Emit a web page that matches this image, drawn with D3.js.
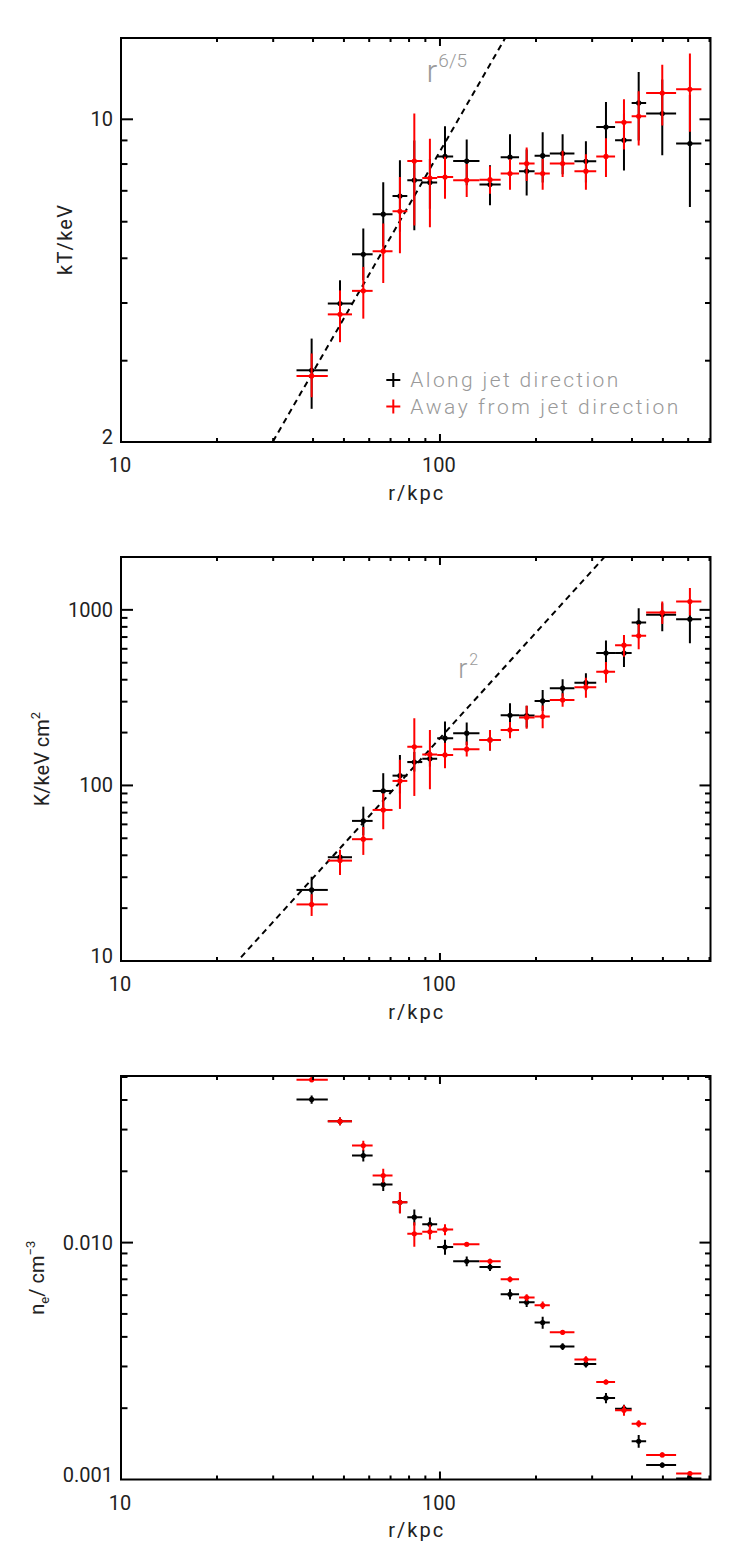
<!DOCTYPE html>
<html><head><meta charset="utf-8">
<script src="https://cdn.jsdelivr.net/npm/d3@7"></script>
<style>
html,body{margin:0;padding:0;background:#fff;}
svg text{font-family:Roboto,"Liberation Sans","DejaVu Sans",sans-serif;}
</style></head><body>
<svg id="c" width="747" height="1557"></svg>
<script>
// ---------------- data ----------------
const rMid = [39.6, 48.6, 57.5, 66.4, 74.9, 83.1, 93.0, 103.7, 121.3, 143.5, 165.8, 187.0, 209.9, 242.4, 286.8, 331.5, 377.5, 419.8, 497.7, 607.6];
const rLo  = [35.5, 44.5, 53, 61.5, 71, 79, 88, 98, 110, 133, 155, 177, 198, 221, 264, 309, 354, 399, 443, 550];
const rHi  = [44.5, 53, 61.5, 71, 79, 88, 98, 110, 133, 155, 177, 198, 221, 264, 309, 354, 399, 443, 550, 660];

// temperature kT (keV)
const ktAlong   = [2.86, 3.99, 5.10, 6.23, 6.82, 7.38, 7.30, 8.31, 8.12, 7.22, 8.28, 7.72, 8.34, 8.43, 8.11, 9.62, 9.01, 10.85, 10.29, 8.86];
const ktAlongLo = [2.36, 3.56, 4.48, 5.30, 5.71, 5.75, 6.40, 6.96, 7.20, 6.51, 7.30, 6.84, 7.30, 7.60, 7.30, 8.35, 7.75, 9.00, 8.36, 6.46];
const ktAlongHi = [3.35, 4.48, 5.80, 7.31, 8.15, 9.00, 8.20, 9.66, 9.04, 7.95, 9.28, 8.60, 9.37, 9.28, 8.96, 10.90, 10.30, 12.66, 12.20, 11.30];
const ktAway    = [2.78, 3.78, 4.25, 5.18, 6.32, 8.12, 7.46, 7.50, 7.38, 7.40, 7.63, 8.02, 7.63, 8.02, 7.72, 8.31, 9.85, 10.15, 11.40, 11.61];
const ktAwayLo  = [2.50, 3.29, 3.70, 4.42, 5.13, 5.89, 5.84, 6.73, 6.79, 6.90, 7.04, 7.35, 7.04, 7.50, 7.04, 7.50, 8.60, 8.78, 9.70, 9.40];
const ktAwayHi  = [3.11, 4.26, 4.79, 5.95, 7.50, 10.29, 9.08, 8.30, 8.00, 7.91, 8.20, 8.69, 8.20, 8.55, 8.40, 9.10, 11.05, 11.50, 13.13, 13.88];

// entropy K (keV cm^2)
const kAlong    = [25.4, 39.0, 62.8, 93.0, 113.7, 135.8, 142.1, 185.8, 198.4, 181.7, 251, 250, 303, 358, 385, 567, 567, 847, 937, 885];
const kAlongLo  = [21.5, 35, 52, 75, 90, 120, 128, 150, 170, 158, 210, 214, 265, 320, 345, 480, 472, 700, 756, 646];
const kAlongHi  = [30.2, 42.9, 75.7, 117.4, 149, 155, 158, 231, 228, 207, 294, 284, 350, 403, 436, 668, 660, 1022, 1090, 1100];
const kAway     = [21.0, 37.3, 49.4, 72.5, 106.1, 165.8, 150.2, 149.2, 160.8, 181.7, 207, 244, 246.6, 307, 362.6, 443.4, 629, 711, 965, 1115];
const kAwayLo   = [18.05, 30.9, 40.2, 56.3, 73.5, 87.1, 95.1, 125.3, 146, 158, 185.8, 210, 211.8, 281, 316, 385, 540, 597, 830, 930];
const kAwayHi   = [24.0, 43.0, 58, 90, 140, 241.5, 207, 175, 178, 207, 230, 284, 285, 335, 410, 505, 720, 830, 1115, 1330];

// electron density n_e (cm^-3)
const neAlong    = [0.0402, 0.0325, 0.0233, 0.0176, 0.0148, 0.0128, 0.01195, 0.00958, 0.00834, 0.00789, 0.00605, 0.0056, 0.0046, 0.00364, 0.00307, 0.00221, 0.00199, 0.00145, 0.00115, 0.00101];
const neAlongErr = [0.0016, 0.0012, 0.0013, 0.0011, 0.0015, 0.0010, 0.0008, 0.0007, 0.0004, 0.0003, 0.0003, 0.00025, 0.00027, 0.00012, 0.0001, 0.00011, 0.00008, 0.00009, 0.00003, 0.00003];
const neAway     = [0.0487, 0.0325, 0.0257, 0.0192, 0.0148, 0.0109, 0.0111, 0.01135, 0.00984, 0.00834, 0.0070, 0.00586, 0.00544, 0.00418, 0.00321, 0.00258, 0.00196, 0.00172, 0.00127, 0.00106];
const neAwayErr  = [0.0012, 0.0012, 0.0012, 0.0013, 0.0015, 0.0013, 0.0008, 0.0006, 0.0002, 0.0002, 0.0002, 0.0002, 0.0002, 0.0001, 0.0001, 0.00006, 0.0001, 0.00006, 0.00003, 0.00002];

// reference power laws: value = norm * (r / rNorm)^slope
const ktLaw = {norm: 5.473, rNorm: 69.15, slope: 6/5};
const kLaw  = {norm: 141.9, rNorm: 87.4, slope: 2};

const xDomain = [10, 705];
const xTickLabels = [10, 100];
const ktDomain = [2, 15];
const ktTickLabels = [2, 10];
const kDomain = [10, 2000];
const kTickLabels = [10, 100, 1000];
const neDomain = [0.001, 0.0505];
const neTickLabels = [0.001, 0.010];
const seriesNames = ["Along jet direction", "Away from jet direction"];
const seriesColors = ["#000000", "#ff0000"];

// ---------------- drawing ----------------
const svg = d3.select("#c");
const left = 121, right = 710.5;
const x = d3.scaleLog().domain(xDomain).range([left, right]);
const FS = 20;

function logTicks(domain) {
  const out = [];
  const d0 = Math.floor(Math.log10(domain[0])) , d1 = Math.ceil(Math.log10(domain[1]));
  for (let d = d0; d <= d1; d++) {
    for (let k = 1; k <= 9; k++) {
      const v = +(k * Math.pow(10, d)).toPrecision(6);
      if (v >= domain[0] * 0.9999 && v <= domain[1] * 1.0001) out.push({v, major: k === 1});
    }
  }
  return out;
}

const panels = [
  {top: 38, bottom: 442, domain: ktDomain, tickLabels: ktTickLabels, fmt: d => String(d),
   along: ktAlong, alongLo: ktAlongLo, alongHi: ktAlongHi,
   away: ktAway, awayLo: ktAwayLo, awayHi: ktAwayHi,
   law: ktLaw, lawLabel: {r: 90.8, v: 12.04, sup: "6/5", rSize: 32, supSize: 19, supDx: 1, supDy: -15},
   ylabel: "kT", ylabelX: 71.5, legend: true},
  {top: 557, bottom: 961, domain: kDomain, tickLabels: kTickLabels, fmt: d => String(d),
   along: kAlong, alongLo: kAlongLo, alongHi: kAlongHi,
   away: kAway, awayLo: kAwayLo, awayHi: kAwayHi,
   law: kLaw, lawLabel: {r: 114.1, v: 408, sup: "2", rSize: 27, supSize: 16, supDx: 2, supDy: -13},
   ylabel: "K", ylabelX: 48.5},
  {top: 1076, bottom: 1479.5, domain: neDomain, tickLabels: neTickLabels, fmt: d => d3.format(".3f")(d),
   along: neAlong, alongLo: neAlong.map((v, i) => v - neAlongErr[i]), alongHi: neAlong.map((v, i) => v + neAlongErr[i]),
   away: neAway, awayLo: neAway.map((v, i) => v - neAwayErr[i]), awayHi: neAway.map((v, i) => v + neAwayErr[i]),
   ylabel: "ne", ylabelX: 43.5}
];

panels.forEach((p, pi) => {
  const y = d3.scaleLog().domain(p.domain).range([p.bottom, p.top]);
  const g = svg.append("g");
  const clipId = "clip" + pi;
  svg.append("clipPath").attr("id", clipId).append("rect")
    .attr("x", left).attr("y", p.top).attr("width", right - left).attr("height", p.bottom - p.top);

  // power law
  if (p.law) {
    const rs = d3.range(0, 201).map(i => xDomain[0] * Math.pow(xDomain[1] / xDomain[0], i / 200));
    const line = d3.line().x(r => x(r)).y(r => y(p.law.norm * Math.pow(r / p.law.rNorm, p.law.slope)));
    g.append("path").attr("d", line(rs)).attr("clip-path", `url(#${clipId})`)
      .attr("fill", "none").attr("stroke", "#000").attr("stroke-width", 2).attr("stroke-dasharray", "6,4.5");
    const L = p.lawLabel;
    const t = g.append("text").attr("x", x(L.r)).attr("y", y(L.v)).attr("fill", "#9a9a9a")
      .style("font-weight", 300);
    t.append("tspan").attr("font-size", L.rSize).text("r");
    t.append("tspan").attr("font-size", L.supSize).attr("dx", L.supDx).attr("dy", L.supDy).text(L.sup);
  }

  // series
  const sets = [
    {v: p.along, lo: p.alongLo, hi: p.alongHi, c: seriesColors[0]},
    {v: p.away, lo: p.awayLo, hi: p.awayHi, c: seriesColors[1]}
  ];
  sets.forEach(s => {
    const sg = g.append("g").attr("clip-path", `url(#${clipId})`).attr("stroke", s.c).attr("fill", s.c);
    const idx = d3.range(s.v.length);
    sg.selectAll("line.h").data(idx).join("line").attr("class", "h")
      .attr("x1", i => x(rLo[i])).attr("x2", i => x(rHi[i]))
      .attr("y1", i => y(s.v[i])).attr("y2", i => y(s.v[i])).attr("stroke-width", 2);
    sg.selectAll("line.v").data(idx).join("line").attr("class", "v")
      .attr("x1", i => x(rMid[i])).attr("x2", i => x(rMid[i]))
      .attr("y1", i => y(s.lo[i])).attr("y2", i => y(s.hi[i])).attr("stroke-width", 2);
    sg.selectAll("circle").data(idx).join("circle")
      .attr("cx", i => x(rMid[i])).attr("cy", i => y(s.v[i])).attr("r", 2.6).attr("stroke", "none");
  });

  // frame
  g.append("rect").attr("x", left).attr("y", p.top).attr("width", right - left).attr("height", p.bottom - p.top)
    .attr("fill", "none").attr("stroke", "#000").attr("stroke-width", 2);

  // x ticks (bottom and top)
  logTicks(xDomain).forEach(t => {
    const xx = x(t.v), len = t.major ? 8 : 4;
    if (xx <= left + 0.5 || xx >= right - 0.5) return;
    g.append("line").attr("x1", xx).attr("x2", xx).attr("y1", p.bottom).attr("y2", p.bottom - len).attr("stroke", "#000").attr("stroke-width", 2);
    g.append("line").attr("x1", xx).attr("x2", xx).attr("y1", p.top).attr("y2", p.top + len).attr("stroke", "#000").attr("stroke-width", 2);
  });
  xTickLabels.forEach(v => {
    g.append("text").attr("x", x(v) - 1).attr("y", p.bottom + 30).attr("text-anchor", "middle")
      .attr("font-size", FS).attr("fill", "#222").text(String(v));
  });
  g.append("text").attr("x", (left + right) / 2).attr("y", p.bottom + 57.5).attr("text-anchor", "middle")
    .attr("font-size", FS).attr("fill", "#222")
    .attr("textLength", 55).attr("lengthAdjust", "spacing").text("r/kpc");

  // y ticks (left and right)
  logTicks(p.domain).forEach(t => {
    const yy = y(t.v);
    if (yy >= p.bottom - 0.5 || yy <= p.top + 0.5) return;
    const len = t.major ? 12 : 6.5;
    g.append("line").attr("x1", left).attr("x2", left + len).attr("y1", yy).attr("y2", yy).attr("stroke", "#000").attr("stroke-width", 2);
    g.append("line").attr("x1", right).attr("x2", right - len + 1).attr("y1", yy).attr("y2", yy).attr("stroke", "#000").attr("stroke-width", 2);
  });
  p.tickLabels.forEach(v => {
    const yy = y(v);
    const shift = Math.abs(yy - p.bottom) < 1 ? -5 : 0;
    g.append("text").attr("x", left - 8).attr("y", yy + shift).attr("dy", "0.35em").attr("text-anchor", "end")
      .attr("font-size", FS).attr("fill", "#222").text(p.fmt(v));
  });

  // y label
  const cy = (p.top + p.bottom) / 2;
  const yl = g.append("text").attr("transform", `translate(${p.ylabelX},${cy}) rotate(-90)`)
    .attr("text-anchor", "middle").attr("font-size", FS).attr("fill", "#222");
  if (p.ylabel === "kT") {
    yl.attr("textLength", 70).attr("lengthAdjust", "spacing").text("kT/keV");
  } else if (p.ylabel === "K") {
    yl.append("tspan").text("K/keV cm");
    yl.append("tspan").attr("font-size", 13).attr("dy", -9).text("2");
  } else {
    yl.append("tspan").text("n");
    yl.append("tspan").attr("font-size", 13).attr("dy", 5).text("e");
    yl.append("tspan").attr("dy", -5).text("/  cm");
    yl.append("tspan").attr("font-size", 13).attr("dy", -9).text("−3");
  }

  // legend
  if (p.legend) {
    const lx = 393.3, ly0 = p.top + 342;
    seriesNames.forEach((name, i) => {
      const yy = ly0 + i * 26.5;
      g.append("line").attr("x1", lx - 7).attr("x2", lx + 7).attr("y1", yy).attr("y2", yy).attr("stroke", seriesColors[i]).attr("stroke-width", 2);
      g.append("line").attr("x1", lx).attr("x2", lx).attr("y1", yy - 7).attr("y2", yy + 7).attr("stroke", seriesColors[i]).attr("stroke-width", 2);
      g.append("text").attr("x", lx + 17).attr("y", yy + 7).attr("font-size", 21).attr("fill", "#999")
        .style("font-weight", 300)
        .attr("textLength", i === 0 ? 208 : 268).attr("lengthAdjust", "spacing").text(name);
    });
  }
});
</script>
</body></html>
